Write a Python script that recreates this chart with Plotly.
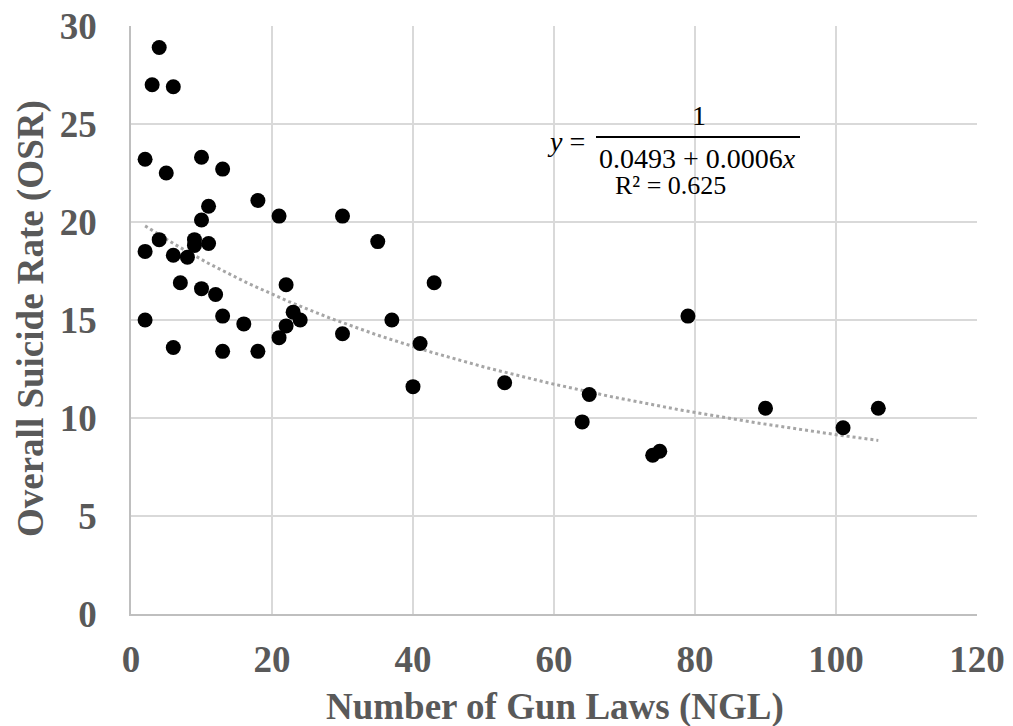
import plotly.graph_objects as go
import numpy as np

# Data
ngl = [4, 3, 6, 2, 5, 10, 13, 11, 18, 21, 30, 10,
       4, 2, 9, 9, 11, 6, 8, 7, 10, 12, 22, 23, 24, 22, 21,
       13, 16, 2, 6, 13, 18, 30,
       35, 43, 37, 41, 40, 53,
       79, 65, 64, 74, 75, 90, 101, 106]
osr = [28.9, 27.0, 26.9, 23.2, 22.5, 23.3, 22.7, 20.8, 21.1, 20.3, 20.3, 20.1,
       19.1, 18.5, 19.1, 18.8, 18.9, 18.3, 18.2, 16.9, 16.6, 16.3, 16.8, 15.4, 15.0, 14.7, 14.1,
       15.2, 14.8, 15.0, 13.6, 13.4, 13.4, 14.3,
       19.0, 16.9, 15.0, 13.8, 11.6, 11.8,
       15.2, 11.2, 9.8, 8.1, 8.3, 10.5, 9.5, 10.5]

# Trendline coefficients shown on the chart: y = 1 / (a + b x)
coef_a = 0.0493
coef_b = 0.0006
r2_text = "0.625"

x_ticks = [0, 20, 40, 60, 80, 100, 120]
y_ticks = [0, 5, 10, 15, 20, 25, 30]

gray = "#595959"
font_family = "Liberation Serif"

L, R, T, B = 131, 36, 26, 112
PW, PH = 1013 - L - R, 726 - T - B

tx = np.linspace(min(ngl), max(ngl), 200)
ty = 1.0 / (coef_a + coef_b * tx)

fig = go.Figure()
fig.add_trace(go.Scatter(x=tx, y=ty, mode="lines",
                         line=dict(color="#a6a6a6", width=3, dash="dot"),
                         hoverinfo="skip", showlegend=False))
fig.add_trace(go.Scatter(x=ngl, y=osr, mode="markers",
                         marker=dict(color="black", size=15),
                         showlegend=False))

fig.update_layout(
    width=1013, height=726,
    margin=dict(l=L, r=R, t=T, b=B),
    paper_bgcolor="white", plot_bgcolor="white",
    font=dict(family=font_family, color=gray),
    xaxis=dict(range=[0, 120], tickvals=x_ticks, ticktext=[str(v) for v in x_ticks],
               showgrid=True, gridcolor="#d9d9d9", gridwidth=1.5,
               showline=True, linecolor="#bfbfbf", linewidth=1.5,
               zeroline=False, ticks="", ticklabelstandoff=12, automargin=False,
               tickfont=dict(size=37, family=font_family, color=gray, weight="bold")),
    yaxis=dict(range=[0, 30], tickvals=y_ticks, ticktext=[str(v) for v in y_ticks],
               showgrid=True, gridcolor="#d9d9d9", gridwidth=1.5,
               showline=True, linecolor="#bfbfbf", linewidth=1.5,
               zeroline=False, ticks="", ticklabelstandoff=25, automargin=False,
               tickfont=dict(size=37, family=font_family, color=gray, weight="bold")),
)

def paper_x(px):
    return (px - L) / PW

def paper_y(py):
    return (726 - B - py) / PH

# Axis titles
fig.add_annotation(xref="paper", yref="paper", x=paper_x(555), y=paper_y(707),
                   text="<b>Number of Gun Laws (NGL)</b>", showarrow=False,
                   xanchor="center", yanchor="middle",
                   font=dict(family=font_family, size=37, color=gray))
fig.add_annotation(xref="paper", yref="paper", x=paper_x(31), y=paper_y(319),
                   text="<b>Overall Suicide Rate (OSR)</b>", showarrow=False, textangle=-90,
                   xanchor="center", yanchor="middle",
                   font=dict(family=font_family, size=37, color=gray))

# Equation box
fig.add_shape(type="rect", xref="paper", yref="paper",
              x0=paper_x(523), x1=paper_x(820), y0=paper_y(218), y1=paper_y(92),
              fillcolor="white", line=dict(width=0), layer="between")
fig.add_shape(type="line", xref="paper", yref="paper",
              x0=paper_x(596), x1=paper_x(800), y0=paper_y(137), y1=paper_y(137),
              line=dict(color="black", width=2), layer="above")

def px_ann(text, cx, cy, size):
    fig.add_annotation(xref="paper", yref="paper", x=paper_x(cx), y=paper_y(cy),
                       text=text, showarrow=False, xanchor="center", yanchor="middle",
                       font=dict(family=font_family, size=size, color="black"))

px_ann("<i>y</i> =", 566, 141, 28)
px_ann("1", 699, 116, 28)
px_ann(f"{coef_a} + {coef_b}<i>x</i>", 697, 159, 28)
px_ann(f"R² = {r2_text}", 670, 186, 26)

fig.write_html("out.html", config={"displayModeBar": False},
               post_script="document.body.style.margin='0';")
